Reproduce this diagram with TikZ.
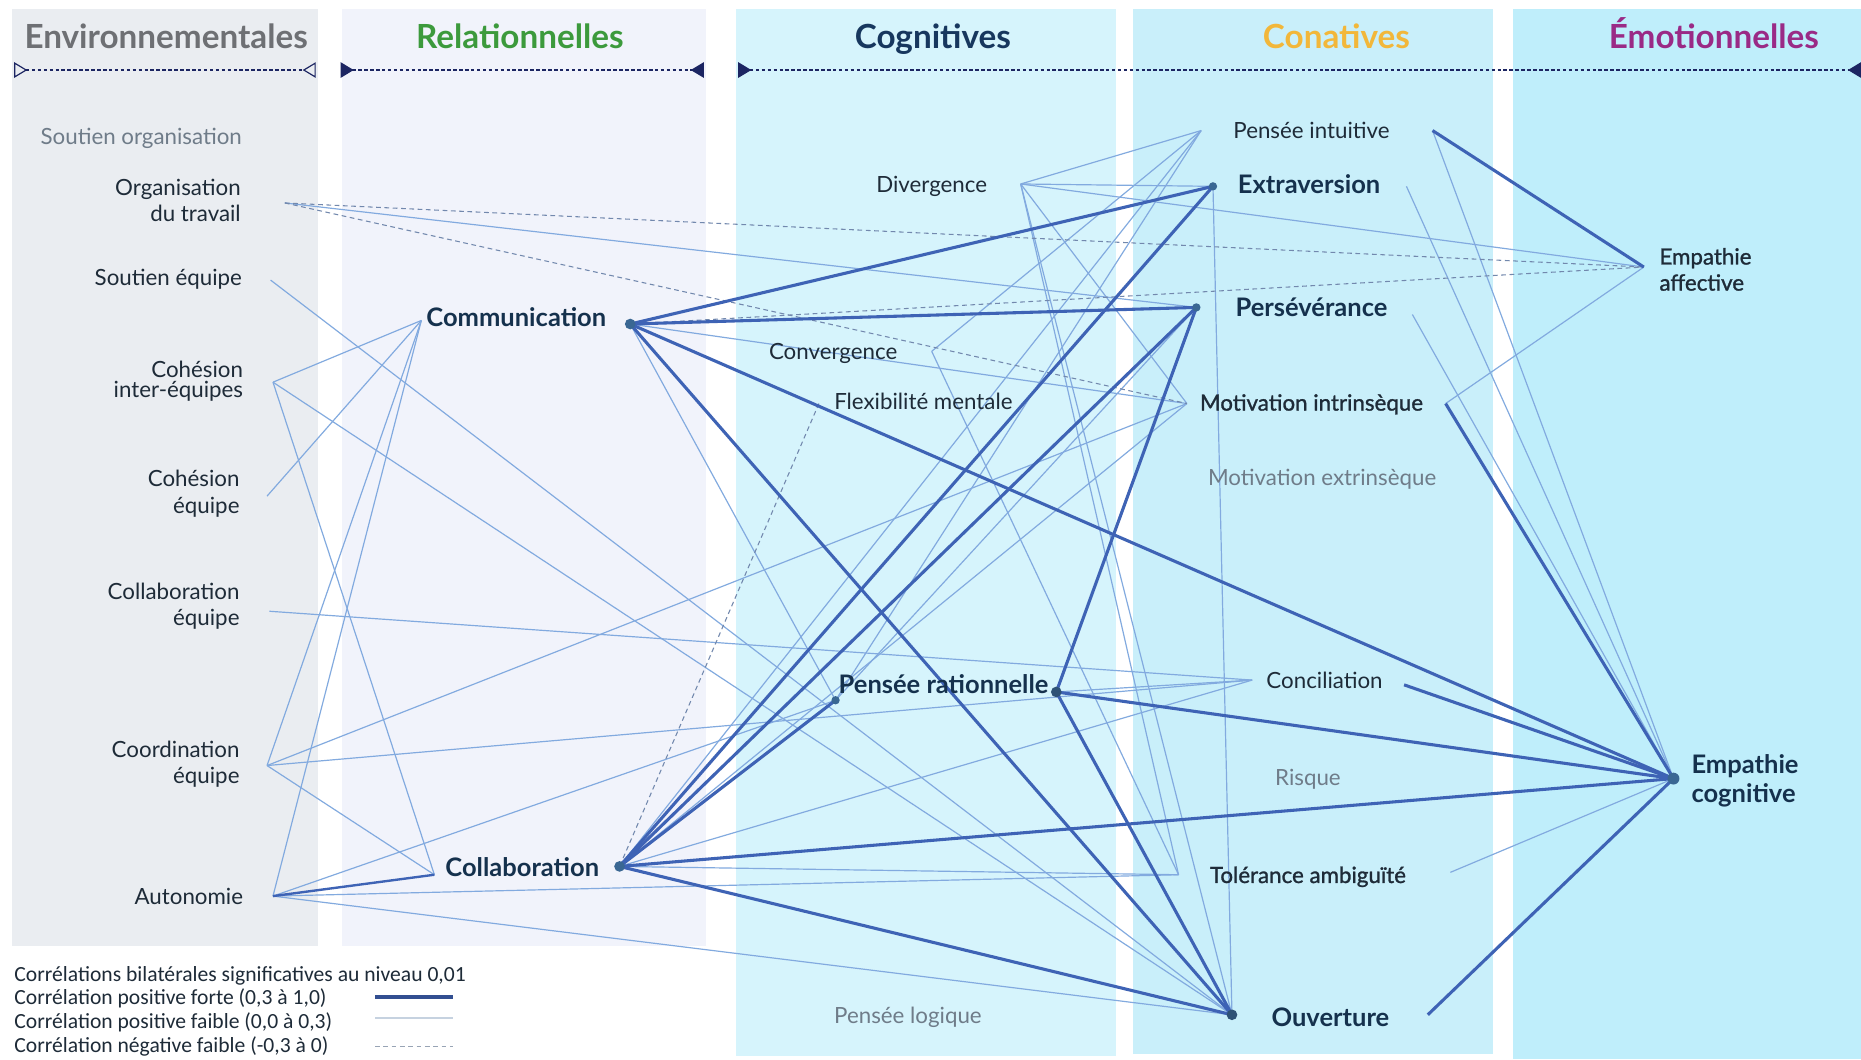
\documentclass[tikz,border=0pt]{standalone}
\usepackage{fontspec}
\setmainfont{Lato}
\newfontfamily\legfont{Carlito}
\newfontfamily\semifont{Lato}[FakeBold=1.2]
\usepackage{tikz}
\usetikzlibrary{arrows,arrows.meta,positioning,calc}

\definecolor{envbg}{HTML}{EAEDF1}
\definecolor{relbg}{HTML}{F1F3FB}
\definecolor{cogbg}{HTML}{D6F4FC}
\definecolor{conbg}{HTML}{C9EFFA}
\definecolor{emobg}{HTML}{BFEEFB}
\definecolor{strongc}{HTML}{3E63B5}
\definecolor{weakc}{HTML}{82AADF}
\definecolor{negc}{HTML}{7288AD}
\definecolor{navyc}{HTML}{1C2562}
\definecolor{dotc}{HTML}{3A6793}
\definecolor{txtc}{HTML}{1E2B38}
\definecolor{boldc}{HTML}{15314D}
\definecolor{greyc}{HTML}{6F7C89}
\definecolor{envh}{HTML}{6E7074}
\definecolor{relh}{HTML}{3C9A3C}
\definecolor{cogh}{HTML}{17375E}
\definecolor{conh}{HTML}{F2B73A}
\definecolor{emoh}{HTML}{9A2A86}
\definecolor{legweak}{HTML}{C6D2E0}
\definecolor{legneg}{HTML}{98A4B5}

\newcommand{\lblfont}{\fontsize{18.8}{22}\selectfont}
\newcommand{\boldlblfont}{\fontsize{21.5}{25}\selectfont\bfseries}
\newcommand{\hdrfont}{\fontsize{28}{32}\selectfont\bfseries}
\newcommand{\legendtext}{\legfont\fontsize{18.2}{20}\selectfont}

\begin{document}
\begin{tikzpicture}[x=1pt, y=-1pt,
		strong/.style={strongc, line width=2.6pt},
		weak/.style={weakc, line width=1pt},
		neg/.style={negc, line width=0.9pt, dash pattern=on 4pt off 3pt},
		ptdot/.style={circle, fill=dotc, inner sep=0pt, minimum size=9pt},
		mlbl/.style={font=\lblfont, text=txtc, inner sep=0pt},
		mslbl/.style={mlbl, font=\lblfont\semifont},
		mblbl/.style={font=\boldlblfont, text=boldc, inner sep=0pt},
		lbl/.style={mlbl, text height=13.5pt, text depth=4pt, yshift=-2.2pt},
		slbl/.style={lbl, font=\lblfont\semifont},
		blbl/.style={mblbl, text height=15.5pt, text depth=4.5pt, yshift=-2.2pt},
		glbl/.style={lbl, text=greyc},
		hdr/.style={font=\hdrfont, inner sep=0pt, anchor=base},
		band/.style={navyc, line width=1pt, dash pattern=on 3pt off 2pt},
		leg/.style={font=\legendtext, text=txtc, inner sep=0pt, anchor=west}]
		\useasboundingbox (0,0) rectangle (1568,892.3);
		\fill[white] (0,0) rectangle (1568,892.3);

		% columns
		\fill[envbg] (10,8) rectangle (268,797);
		\fill[relbg] (288,8) rectangle (595,797);
		\fill[cogbg] (620,8) rectangle (940,890);
		\fill[conbg] (955,8) rectangle (1258,888);
		\fill[emobg] (1275,8) rectangle (1568,892.3);

		% headers
		\node[hdr, text=envh] (hEnv) at (140,41) {Environnementales};
		\node[hdr, text=relh] (hRel) at (438,41) {Relationnelles};
		\node[hdr, text=cogh] (hCog) at (786,41) {Cognitives};
		\node[hdr, text=conh] (hCon) at (1126,41) {Conatives};
		\node[hdr, text=emoh] (hEmo) at (1444,41) {Émotionnelles};
		\coordinate (bEnvA) at (12,59);
		\coordinate (bEnvB) at (266,59);
		\coordinate (bRelA) at (287,59);
		\coordinate (bRelB) at (593,59);
		\coordinate (bCogA) at (622,59);
		\coordinate (bCogB) at (1568,59);
		\draw[band, {Triangle[open,reversed,length=11pt,width=13pt]}-{Triangle[open,reversed,length=11pt,width=13pt]}] (bEnvA) -- (bEnvB);
		\draw[band, {Triangle[reversed,length=11pt,width=13pt]}-{Triangle[reversed,length=11pt,width=13pt]}] (bRelA) -- (bRelB);
		\draw[band, {Triangle[reversed,length=11pt,width=13pt]}-{Triangle[reversed,length=11pt,width=13pt]}] (bCogA) -- (bCogB);

		% connection points
		\coordinate (orgT) at (240,171);
		\coordinate (soutEq) at (228,236);
		\coordinate (cohIE) at (230,322);
		\coordinate (cohEq) at (225,418);
		\coordinate (collEq) at (227,515);
		\coordinate (coordEq) at (225,645);
		\coordinate (autoP) at (230,755);
		\coordinate (commL) at (355,270);
		\coordinate (commR) at (531,273);
		\coordinate (collL) at (366,737);
		\coordinate (collR) at (522,730);
		\coordinate (divP) at (860,155);
		\coordinate (convP) at (785,296);
		\coordinate (flexP) at (690,340);
		\coordinate (ratL) at (704,590);
		\coordinate (ratR) at (890,583);
		\coordinate (intuL) at (1012,110);
		\coordinate (intuR) at (1207,110);
		\coordinate (extraL) at (1022,157);
		\coordinate (extraR) at (1185,157);
		\coordinate (perseL) at (1008,259);
		\coordinate (perseR) at (1190,265);
		\coordinate (motiL) at (1000,340);
		\coordinate (motiR) at (1218,340);
		\coordinate (concL) at (1055,573);
		\coordinate (concR) at (1183,577);
		\coordinate (tolL) at (993,737);
		\coordinate (tolR) at (1222,735);
		\coordinate (ouvL) at (1038,855);
		\coordinate (ouvR) at (1203,855);
		\coordinate (empA) at (1385,225);
		\coordinate (empC) at (1410,656);

		% weak positive
		\draw[weak] (orgT) -- (perseL);
		\draw[weak] (soutEq) -- (ouvL);
		\draw[weak] (cohIE) -- (commL);
		\draw[weak] (cohIE) -- (collL);
		\draw[weak] (cohIE) -- (ouvL);
		\draw[weak] (cohEq) -- (commL);
		\draw[weak] (collEq) -- (concL);
		\draw[weak] (coordEq) -- (commL);
		\draw[weak] (coordEq) -- (collL);
		\draw[weak] (coordEq) -- (motiL);
		\draw[weak] (coordEq) -- (concL);
		\draw[weak] (autoP) -- (commL);
		\draw[weak] (autoP) -- (ratL);
		\draw[weak] (autoP) -- (tolL);
		\draw[weak] (autoP) -- (ouvL);
		\draw[weak] (commR) -- (motiL);
		\draw[weak] (commR) -- (ratL);
		\draw[weak] (collR) -- (intuL);
		\draw[weak] (collR) -- (motiL);
		\draw[weak] (collR) -- (concL);
		\draw[weak] (collR) -- (tolL);
		\draw[weak] (divP) -- (intuL);
		\draw[weak] (divP) -- (extraL);
		\draw[weak] (divP) -- (empA);
		\draw[weak] (divP) -- (motiL);
		\draw[weak] (divP) -- (tolL);
		\draw[weak] (divP) -- (ouvL);
		\draw[weak] (convP) -- (intuL);
		\draw[weak] (convP) -- (tolL);
		\draw[weak] (intuL) -- (ratL);
		\draw[weak] (extraL) -- (ouvL);
		\draw[weak] (perseL) -- (ratL);
		\draw[weak] (ratR) -- (concL);
		\draw[weak] (intuR) -- (empC);
		\draw[weak] (extraR) -- (empC);
		\draw[weak] (perseR) -- (empC);
		\draw[weak] (tolR) -- (empC);
		\draw[weak] (motiR) -- (empA);

		% weak negative
		\draw[neg] (orgT) -- (empA);
		\draw[neg] (orgT) -- (motiL);
		\draw[neg] (commR) -- (empA);
		\draw[neg] (flexP) -- (collR);

		% strong positive
		\draw[strong] (commR) -- (extraL);
		\draw[strong] (commR) -- (perseL);
		\draw[strong] (commR) -- (empC);
		\draw[strong] (commR) -- (ouvL);
		\draw[strong] (collR) -- (extraL);
		\draw[strong] (collR) -- (perseL);
		\draw[strong] (collR) -- (ratL);
		\draw[strong] (collR) -- (empC);
		\draw[strong] (collR) -- (ouvL);
		\draw[strong] (ratR) -- (perseL);
		\draw[strong] (ratR) -- (ouvL);
		\draw[strong] (ratR) -- (empC);
		\draw[strong] (concR) -- (empC);
		\draw[strong] (motiR) -- (empC);
		\draw[strong] (ouvR) -- (empC);
		\draw[strong] (intuR) -- (empA);
		\draw[strong, line width=2pt] (autoP) -- (collL);

		% dots
		\node[ptdot] (dComm) at (commR) {};
		\node[ptdot] (dColl) at (collR) {};
		\node[ptdot, minimum size=7pt] (dRatL) at (ratL) {};
		\node[ptdot, fill=dotc!80!black] (dRatR) at (ratR) {};
		\node[ptdot, minimum size=7pt] (dExtra) at (extraL) {};
		\node[ptdot, minimum size=7pt] (dPerse) at (perseL) {};
		\node[ptdot, fill=dotc!80!black] (dOuv) at (ouvL) {};
		\node[ptdot, minimum size=10pt] (dEmpC) at (empC) {};

		% labels
		\node[glbl, anchor=east] (soutOrg) at (204,115) {Soutien organisation};
		\node[mlbl, anchor=east, align=right] (orgTrav) at (203,169) {Organisation\\du travail};
		\node[lbl, anchor=east] (soutEqu) at (204,234) {Soutien équipe};
		\node[mlbl, anchor=east, align=right] (cohInter) at (205,321) {Cohésion\\[-5pt]inter-équipes};
		\node[mlbl, anchor=east, align=right] (cohEqu) at (202,416) {Cohésion\\équipe};
		\node[mlbl, anchor=east, align=right] (collEqu) at (202,511) {Collaboration\\équipe};
		\node[mlbl, anchor=east, align=right] (coordEqu) at (202,644) {Coordination\\équipe};
		\node[lbl, anchor=east] (autonomie) at (205,755) {Autonomie};
		\node[blbl] (communication) at (435,267) {Communication};
		\node[blbl] (collaboration) at (440,731) {Collaboration};
		\node[lbl] (divergence) at (785,155) {Divergence};
		\node[lbl] (convergence) at (702,296) {Convergence};
		\node[lbl] (flexibilite) at (778,338) {Flexibilité mentale};
		\node[blbl] (rationnelle) at (795,577) {Pensée rationnelle};
		\node[glbl] (logique) at (765,855) {Pensée logique};
		\node[lbl] (intuitive) at (1105,110) {Pensée intuitive};
		\node[blbl] (extraversion) at (1103,155) {Extraversion};
		\node[blbl] (perseverance) at (1105,259) {Persévérance};
		\node[slbl] (motivIn) at (1105,339) {Motivation intrinsèque};
		\node[glbl] (motivEx) at (1114,402) {Motivation extrinsèque};
		\node[lbl] (conciliation) at (1116,573) {Conciliation};
		\node[glbl] (risque) at (1102,655) {Risque};
		\node[slbl] (tolerance) at (1102,737) {Tolérance ambiguïté};
		\node[blbl] (ouverture) at (1121,857) {Ouverture};
		\node[mslbl, anchor=west, align=left] (empAff) at (1398,227) {Empathie\\affective};
		\node[mblbl, anchor=west, align=left] (empCog) at (1425,658) {Empathie\\cognitive};

		% legend
		\node[leg] (legTitle) at (12,822) {Corrélations bilatérales significatives au niveau 0,01};
		\node[leg] (legStrong) at (12,841) {Corrélation positive forte (0,3 à 1,0)};
		\node[leg] (legWeak) at (12,861) {Corrélation positive faible (0,0 à 0,3)};
		\node[leg] (legNeg) at (12,882) {Corrélation négative faible (-0,3 à 0)};
		\coordinate (ls1) at (316,840);
		\coordinate (le1) at (382,840);
		\coordinate (ls2) at (316,858);
		\coordinate (le2) at (382,858);
		\coordinate (ls3) at (316,882);
		\coordinate (le3) at (382,882);
		\draw[strong, color=strongc!80!black] (ls1) -- (le1);
		\draw[legweak, line width=1.6pt] (ls2) -- (le2);
		\draw[neg, color=legneg] (ls3) -- (le3);
	\end{tikzpicture}
\end{document}
